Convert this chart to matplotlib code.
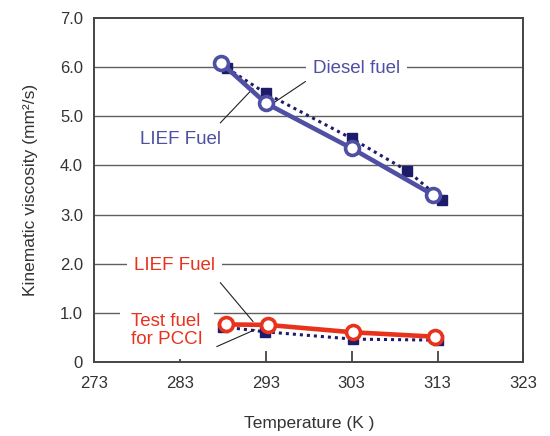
import matplotlib
matplotlib.use("Agg")
import matplotlib.pyplot as plt

plt.rcParams['font.family'] = ['Liberation Sans', 'DejaVu Sans']

# Data (Temperature K, kinematic viscosity mm2/s)
diesel_T = [288.5, 293.0, 303.0, 309.5, 313.5]
diesel_v = [5.98, 5.47, 4.55, 3.89, 3.30]
lief_hi_T = [287.8, 293.0, 303.0, 312.5]
lief_hi_v = [6.09, 5.27, 4.35, 3.40]
pcci_T = [288.0, 292.9, 303.2, 313.0]
pcci_v = [0.71, 0.61, 0.46, 0.44]
lief_lo_T = [288.4, 293.2, 303.1, 312.7]
lief_lo_v = [0.76, 0.75, 0.60, 0.51]

xticks = [273, 283, 293, 303, 313, 323]
yticks = [0, 1, 2, 3, 4, 5, 6, 7]
yticklabels = ['0', '1.0', '2.0', '3.0', '4.0', '5.0', '6.0', '7.0']

navy = '#1c1c6b'
blue = '#4f4fa3'
red = '#e8321c'
grid_c = '#606060'
txt_c = '#333333'

fig = plt.figure(figsize=(5.5, 4.36), dpi=100)
ax = fig.add_axes([0.1713, 0.1704, 0.7802, 0.7876])

ax.set_xlim(273, 323)
ax.set_ylim(0, 7)

for y in yticks[1:-1]:
    ax.axhline(y, color=grid_c, lw=1.0, zorder=1)

ax.plot(diesel_T, diesel_v, color=navy, lw=2.2, ls=(0, (1, 1.3)),
        marker='s', ms=6.5, mfc=navy, mec=navy, zorder=3)
ax.plot(pcci_T, pcci_v, color=navy, lw=2.2, ls=(0, (1, 1.3)),
        marker='s', ms=6.5, mfc=navy, mec=navy, zorder=3)
ax.plot(lief_hi_T, lief_hi_v, color=blue, lw=3.3, marker='o', ms=10,
        mfc='white', mec=blue, mew=2.6, zorder=4)
ax.plot(lief_lo_T, lief_lo_v, color=red, lw=3.3, marker='o', ms=10,
        mfc='white', mec=red, mew=2.6, zorder=4)

ax.set_xticks(xticks)
ax.set_xticklabels([str(t) for t in xticks])
ax.set_yticks(yticks)
ax.set_yticklabels(yticklabels)
ax.tick_params(axis='x', direction='in', length=8, width=1.2, color='#333333',
               labelsize=12, labelcolor=txt_c, pad=10)
ax.tick_params(axis='y', length=0, labelsize=12, labelcolor=txt_c, pad=8)
for sp in ax.spines.values():
    sp.set_color('#444444')
    sp.set_linewidth(1.4)

ax.set_xlabel('Temperature (K )', fontsize=12.5, color=txt_c, labelpad=18)
ax.set_ylabel('Kinematic viscosity (mm²/s)', fontsize=12.5, color=txt_c, labelpad=16)

bb = dict(facecolor='white', edgecolor='none', pad=5)
ax.text(303.6, 5.98, 'Diesel fuel', color=blue, fontsize=13.5,
        ha='center', va='center', bbox=bb, zorder=5)
ax.text(283.0, 4.52, 'LIEF Fuel', color=blue, fontsize=13.5,
        ha='center', va='center', zorder=5)
ax.text(282.4, 1.97, 'LIEF Fuel', color=red, fontsize=13.5,
        ha='center', va='center', bbox=bb, zorder=5)
ax.text(277.3, 0.63, 'Test fuel\nfor PCCI', color=red, fontsize=13.5,
        ha='left', va='center', linespacing=1.05,
        bbox=dict(facecolor='white', edgecolor='none', pad=8), zorder=5)

lk = dict(color='#222222', lw=0.8, zorder=2)
ax.plot([297.6, 294.1], [5.71, 5.30], **lk)
ax.plot([287.7, 291.5], [4.87, 5.57], **lk)
ax.plot([287.7, 291.5], [1.61, 0.82], **lk)
ax.plot([287.3, 291.7], [0.31, 0.65], **lk)

fig.savefig('out.png', dpi=100)
